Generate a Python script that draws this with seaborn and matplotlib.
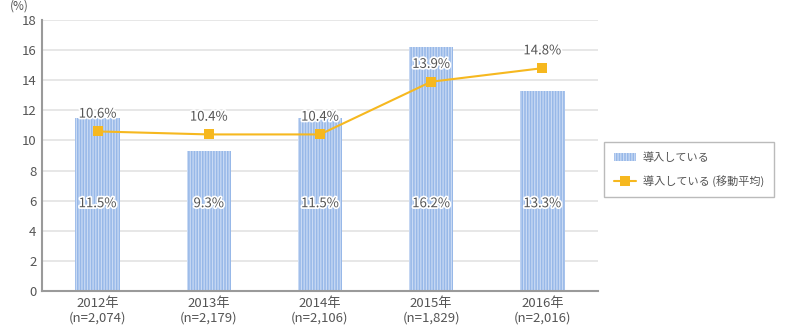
import matplotlib
matplotlib.use("Agg")
import matplotlib.pyplot as plt
import matplotlib.patheffects as pe
import seaborn as sns
import pandas as pd
from matplotlib.lines import Line2D
from matplotlib.patches import Patch

years = ["2012年", "2013年", "2014年", "2015年", "2016年"]
samples = ["n=2,074", "n=2,179", "n=2,106", "n=1,829", "n=2,016"]
adoption = [11.5, 9.3, 11.5, 16.2, 13.3]
moving_avg = [10.6, 10.4, 10.4, 13.9, 14.8]

sns.set_theme(style="white")
plt.rcParams["font.family"] = ["Noto Sans CJK JP", "DejaVu Sans"]

labels = [f"{y}\n({n})" for y, n in zip(years, samples)]
df = pd.DataFrame({"label": labels, "adoption": adoption, "avg": moving_avg})

fig = plt.figure(figsize=(8, 3.33), dpi=100)
ax = fig.add_axes([0.0525, 0.126, 0.695, 0.814])

bar_face = "#97b8e8"
bar_stripe = "#c9daf4"
line_color = "#f6b81f"
text_color = "#555555"
stripes = "||||||"

plt.rcParams["hatch.linewidth"] = 0.9
sns.barplot(data=df, x="label", y="adoption", ax=ax, color=bar_face,
            width=0.4, saturation=1, zorder=2)
for p in ax.patches:
    p.set_hatch(stripes)
    p.set_edgecolor(bar_stripe)
    p.set_linewidth(0)

sns.lineplot(x=list(range(len(labels))), y=moving_avg, ax=ax, color=line_color,
             linewidth=1.5, marker="s", markersize=7, markeredgewidth=0,
             zorder=4)

halo = [pe.withStroke(linewidth=2.5, foreground="white")]
for i, v in enumerate(adoption):
    ax.text(i, 5.8, f"{v}%", ha="center", va="center", fontsize=9.5,
            color=text_color, path_effects=halo, zorder=5)
for i, v in enumerate(moving_avg):
    ax.text(i, v + 1.15, f"{v}%", ha="center", va="center", fontsize=9.5,
            color=text_color, path_effects=halo, zorder=5)

ax.set_ylim(0, 18)
ax.set_yticks(range(0, 19, 2))
ax.set_xlim(-0.5, 4.5)
ax.set_xlabel("")
ax.set_ylabel("")
ax.yaxis.grid(True, color="#e3e3e3", linewidth=1.2, zorder=0)
ax.set_axisbelow(True)
for side in ["top", "right"]:
    ax.spines[side].set_visible(False)
for side in ["left", "bottom"]:
    ax.spines[side].set_color("#9a9a9a")
    ax.spines[side].set_linewidth(1.5)
ax.tick_params(axis="both", length=0, labelsize=9.5, colors=text_color, pad=4)
ax.text(-0.04, 1.028, "(%)", transform=ax.transAxes, ha="center", va="bottom",
        fontsize=8.5, color=text_color)

handles = [
    Patch(facecolor=bar_face, edgecolor=bar_stripe, hatch=stripes, linewidth=0,
          label="導入している"),
    Line2D([0], [0], color=line_color, linewidth=1.5, marker="s", markersize=7,
           markeredgewidth=0, label="導入している (移動平均)"),
]
leg = fig.legend(handles=handles, loc="upper left",
                 bbox_to_anchor=(0.755, 0.574), frameon=True, fontsize=8,
                 handlelength=2.0, handletextpad=0.6, borderpad=0.9,
                 labelspacing=1.1, fancybox=False, borderaxespad=0)
leg.get_frame().set_edgecolor("#aaaaaa")
leg.get_frame().set_linewidth(1.0)
for t in leg.get_texts():
    t.set_color(text_color)

fig.savefig("out.png", dpi=100, facecolor="white")
